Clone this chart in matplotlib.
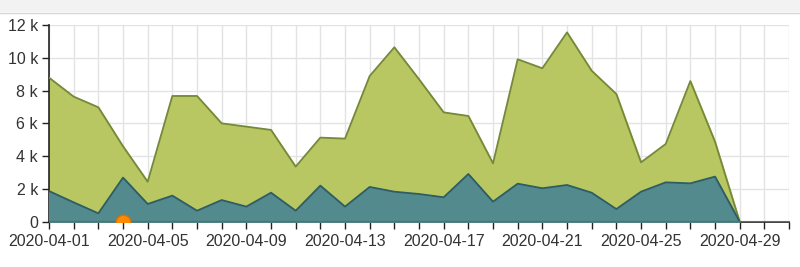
import numpy as np
import matplotlib
matplotlib.use("Agg")
import matplotlib.pyplot as plt
import matplotlib.dates as mdates
from matplotlib.patches import Rectangle
from matplotlib.ticker import FuncFormatter, MultipleLocator, FixedLocator

plt.rcParams['font.family'] = ['Liberation Sans', 'DejaVu Sans']

# daily values, 2020-04-01 .. 2020-04-29
dates = np.arange(np.datetime64('2020-04-01'), np.datetime64('2020-04-30'))
total = [8.79, 7.63, 6.98, 4.6, 2.44, 7.67, 7.67, 6.0, 5.8, 5.6,
         3.36, 5.13, 5.07, 8.89, 10.64, 8.69, 6.67, 6.45, 3.56, 9.91,
         9.36, 11.55, 9.21, 7.79, 3.62, 4.74, 8.58, 4.88, 0.0]
part = [1.87, 1.18, 0.51, 2.69, 1.08, 1.59, 0.67, 1.32, 0.92, 1.77,
        0.67, 2.2, 0.92, 2.12, 1.83, 1.69, 1.49, 2.91, 1.22, 2.32,
        2.04, 2.24, 1.77, 0.77, 1.83, 2.4, 2.34, 2.75, 0.0]
# third series stays at zero through the end of the range
zero_dates = np.arange(np.datetime64('2020-04-01'), np.datetime64('2020-05-02'))
zero_vals = [0.0] * len(zero_dates)
marker_date = np.datetime64('2020-04-04')
label_dates = ['2020-04-01', '2020-04-05', '2020-04-09', '2020-04-13',
               '2020-04-17', '2020-04-21', '2020-04-25', '2020-04-29']

total = np.array(total) * 1000
part = np.array(part) * 1000
x = dates.astype('datetime64[D]').astype(object)
xz = zero_dates.astype('datetime64[D]').astype(object)

fig = plt.figure(figsize=(8, 2.67), dpi=100)
fig.patch.set_facecolor('white')

# header strip at the top of the panel
fig.patches.append(Rectangle((0, 255 / 267), 1, 12 / 267, transform=fig.transFigure,
                             facecolor='#f2f2f2', edgecolor='none', zorder=0))
fig.add_artist(plt.Line2D([0, 1], [254.5 / 267, 254.5 / 267], transform=fig.transFigure,
                          color='#d6d6d6', lw=1))

ax = fig.add_axes([49 / 800, 45.3 / 267, 740 / 800, 196.7 / 267])

ax.fill_between(x, 0, total, color='#b8c762', zorder=2)
ax.plot(x, total, color='#75893a', lw=1.3, zorder=3)
ax.fill_between(x, 0, part, color='#528a8d', zorder=4)
ax.plot(x, part, color='#2f5d63', lw=1.3, zorder=5)
ax.plot(xz, zero_vals, color='#b0521e', lw=1.5, zorder=6)
ax.scatter([marker_date.astype(object)], [0], s=110, color='#ff8a00',
           edgecolor='#e07000', zorder=7, clip_on=True)

ax.set_xlim(np.datetime64('2020-04-01').astype(object), np.datetime64('2020-05-01').astype(object))
ax.set_ylim(0, 12000)

major = [mdates.date2num(np.datetime64(d).astype(object)) for d in label_dates]
ax.xaxis.set_major_locator(FixedLocator(major))
ax.xaxis.set_major_formatter(mdates.DateFormatter('%Y-%m-%d'))
ax.xaxis.set_minor_locator(mdates.DayLocator())
ax.yaxis.set_major_locator(MultipleLocator(2000))
ax.yaxis.set_major_formatter(FuncFormatter(lambda v, p: '0' if v == 0 else f'{int(v / 1000)} k'))

ax.grid(True, which='both', axis='x', color='#e3e3e3', lw=1, zorder=0)
ax.grid(True, which='major', axis='y', color='#e3e3e3', lw=1, zorder=0)
ax.set_axisbelow(True)

for s in ['top', 'right']:
    ax.spines[s].set_visible(False)
ax.spines['left'].set_color('#222222')
ax.spines['bottom'].set_color('#222222')
ax.spines['left'].set_linewidth(1.2)
ax.spines['bottom'].set_linewidth(1.2)

ax.tick_params(axis='both', which='both', colors='#222222', labelcolor='#333333',
               labelsize=11.5, direction='out')
ax.tick_params(axis='x', which='both', length=5, width=1, pad=4)
ax.tick_params(axis='y', length=5, width=1, pad=3)

plt.savefig('out.png', dpi=100)
